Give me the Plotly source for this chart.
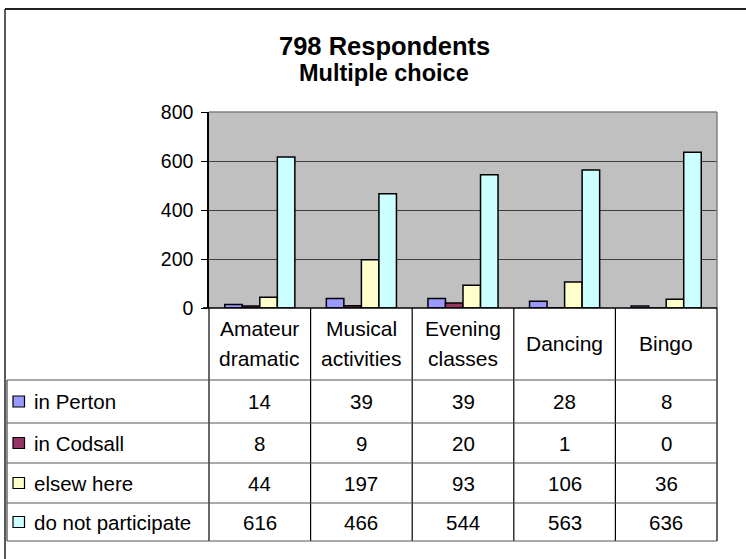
import plotly.graph_objects as go

W, H = 746, 559

categories = ["Amateur<br>dramatic", "Musical<br>activities", "Evening<br>classes", "Dancing", "Bingo"]
series_names = ["in Perton", "in Codsall", "elsew here", "do not participate"]
in_perton = [14, 39, 39, 28, 8]
in_codsall = [8, 9, 20, 1, 0]
elsewhere = [44, 197, 93, 106, 36]
do_not_participate = [616, 466, 544, 563, 636]
series_values = [in_perton, in_codsall, elsewhere, do_not_participate]
colors = ["#9999FF", "#993366", "#FFFFCC", "#CCFFFF"]
y_ticks = [0, 200, 400, 600, 800]
title_lines = ["798 Respondents", "Multiple choice"]

FONT = "Liberation Sans, Arial, sans-serif"

def px(x):
    return x / W

def py(y):
    return 1 - y / H

# layout geometry (pixels)
PL, PR, PT, PB = 209, 717, 112, 308
TL = 7
row_lines = [380, 423, 463, 503, 541]

fig = go.Figure()
for name, vals, col in zip(series_names, series_values, colors):
    fig.add_trace(go.Bar(
        x=categories, y=vals, name=name,
        marker=dict(color=col, line=dict(color="black", width=1.5)),
        showlegend=False,
    ))

shapes = []
annotations = []

# outer chart border (top/left visible)
shapes.append(dict(type="line", xref="paper", yref="paper", x0=px(5), x1=px(W + 5),
                   y0=py(9), y1=py(9), line=dict(color="#222", width=2)))
shapes.append(dict(type="line", xref="paper", yref="paper", x0=px(5), x1=px(5),
                   y0=py(9), y1=py(H + 5), line=dict(color="#222", width=1.5)))

# plot area border top/right in grey
shapes.append(dict(type="line", xref="paper", yref="paper", x0=px(PL), x1=px(PR),
                   y0=py(PT), y1=py(PT), line=dict(color="#808080", width=1.5)))
shapes.append(dict(type="line", xref="paper", yref="paper", x0=px(PR), x1=px(PR),
                   y0=py(PT), y1=py(PB), line=dict(color="#808080", width=1.5)))

# table: vertical column lines (header and body)
ncat = len(categories)
colw = (PR - PL) / ncat
for i in range(ncat + 1):
    xx = PL + i * colw
    shapes.append(dict(type="line", xref="paper", yref="paper", x0=px(xx), x1=px(xx),
                       y0=py(PB), y1=py(row_lines[-1]), line=dict(color="black", width=1.2)))
# left edge of table body
shapes.append(dict(type="line", xref="paper", yref="paper", x0=px(TL), x1=px(TL),
                   y0=py(row_lines[0]), y1=py(row_lines[-1]), line=dict(color="#444", width=1.2)))
# horizontal row lines
for j, yy in enumerate(row_lines):
    shapes.append(dict(type="line", xref="paper", yref="paper", x0=px(TL), x1=px(PR),
                       y0=py(yy), y1=py(yy), line=dict(color="#555", width=1.2)))
# plot bottom / table top line
shapes.append(dict(type="line", xref="paper", yref="paper", x0=px(PL - 6), x1=px(PR),
                   y0=py(PB), y1=py(PB), line=dict(color="black", width=1.5)))

# category header labels
for cat in categories:
    parts = cat.split("<br>")
    if len(parts) == 2:
        ys = [328, 358]
    else:
        ys = [343]
    for part, yy in zip(parts, ys):
        annotations.append(dict(xref="x", yref="paper", x=cat, y=py(yy), text=part,
                                showarrow=False, xanchor="center", yanchor="middle",
                                font=dict(family=FONT, size=21, color="black")))

# table rows
for r, (name, vals, col) in enumerate(zip(series_names, series_values, colors)):
    yc = (row_lines[r] + row_lines[r + 1]) / 2
    shapes.append(dict(type="rect", xref="paper", yref="paper", x0=px(13), x1=px(24.5),
                       y0=py(yc - 5.5), y1=py(yc + 5.5), fillcolor=col,
                       line=dict(color="black", width=1.2)))
    annotations.append(dict(xref="paper", yref="paper", x=px(32), y=py(yc), text=name,
                            showarrow=False, xanchor="left", yanchor="middle",
                            font=dict(family=FONT, size=20.5, color="black")))
    for cat, v in zip(categories, vals):
        annotations.append(dict(xref="x", yref="paper", x=cat, y=py(yc), text=str(v),
                                showarrow=False, xanchor="center", yanchor="middle",
                                font=dict(family=FONT, size=20.5, color="black")))

# title
annotations.append(dict(xref="paper", yref="paper", x=px(384), y=py(45.5), text="<b>" + title_lines[0] + "</b>",
                        showarrow=False, xanchor="center", yanchor="middle",
                        font=dict(family=FONT, size=25.5, color="black")))
annotations.append(dict(xref="paper", yref="paper", x=px(384), y=py(73), text="<b>" + title_lines[1] + "</b>",
                        showarrow=False, xanchor="center", yanchor="middle",
                        font=dict(family=FONT, size=23.5, color="black")))

fig.update_layout(
    width=W, height=H, autosize=False,
    margin=dict(l=0, r=0, t=0, b=0, pad=0, autoexpand=False),
    paper_bgcolor="white",
    plot_bgcolor="#C0C0C0",
    barmode="group", bargap=0.31, bargroupgap=0,
    font=dict(family=FONT, size=19, color="black"),
    xaxis=dict(domain=[px(PL), px(PR)], showticklabels=False, showgrid=False, automargin=False,
               ticks="", showline=False, zeroline=False, fixedrange=True),
    yaxis=dict(domain=[py(PB), py(PT)], range=[0, 800], tickvals=y_ticks, automargin=False,
               ticks="outside", ticklen=6, tickcolor="black", tickwidth=1.2,
               showline=True, linecolor="black", linewidth=1.5,
               showgrid=True, gridcolor="#404040", gridwidth=1.2,
               zeroline=False, ticklabelstandoff=4, fixedrange=True,
               tickfont=dict(family=FONT, size=19.5, color="black")),
    shapes=shapes,
    annotations=annotations,
)

post = ("var gd=document.getElementById('{plot_id}');"
        "document.body.style.margin='0';document.body.style.overflow='hidden';"
        "gd.style.position='absolute';gd.style.left='0px';gd.style.top='0px';")
fig.write_html("out.html", post_script=post, config={"displayModeBar": False})
